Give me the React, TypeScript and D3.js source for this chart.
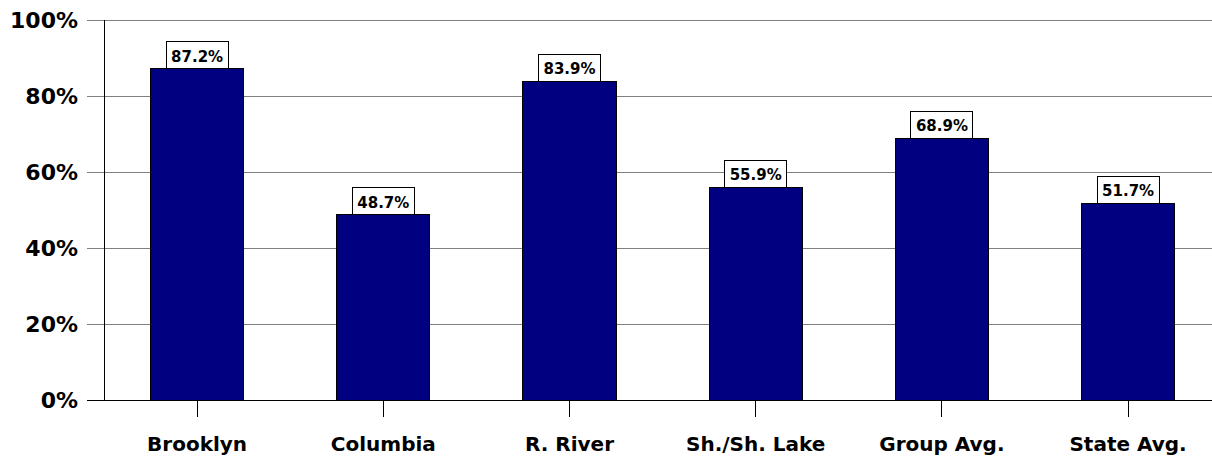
import React from "react";
import * as d3 from "d3";

const categories = ["Brooklyn", "Columbia", "R. River", "Sh./Sh. Lake", "Group Avg.", "State Avg."];
const values = [87.2, 48.7, 83.9, 55.9, 68.9, 51.7];
const yTicks = [0, 20, 40, 60, 80, 100];

const W = 1212;
const H = 460;
const FONT = "'DejaVu Sans', Arial, sans-serif";

export default function App() {
  const x0 = 104;
  const step = 186.2;
  const x = d3
    .scaleBand<string>()
    .domain(categories)
    .range([x0, x0 + step * categories.length])
    .paddingInner(0.5)
    .paddingOuter(0.25);
  const y = d3.scaleLinear().domain([0, 100]).range([400, 20]);

  return (
    <svg
      width={W}
      height={H}
      style={{ position: "absolute", left: 0, top: 0, background: "#fff" }}
      fontFamily={FONT}
    >
      {yTicks.map((t) => (
        <g key={t}>
          <line
            x1={87}
            x2={W}
            y1={y(t)}
            y2={y(t)}
            stroke={t === 0 ? "#000" : "#808080"}
            strokeWidth={1}
            shapeRendering="crispEdges"
          />
          <text
            x={78}
            y={y(t)}
            dy="0.36em"
            textAnchor="end"
            fontSize={22}
            fontWeight="bold"
            fill="#000"
          >
            {t}%
          </text>
        </g>
      ))}
      <line x1={x0} x2={x0} y1={y(100)} y2={y(0)} stroke="#000" shapeRendering="crispEdges" />
      {categories.map((c, i) => {
        const bx = x(c)!;
        const bw = x.bandwidth();
        const cx = bx + bw / 2;
        const top = y(values[i]);
        const label = values[i].toFixed(1) + "%";
        const boxW = 62;
        const boxH = 27;
        return (
          <g key={c}>
            <rect
              x={bx}
              y={top}
              width={bw}
              height={y(0) - top}
              fill="#000080"
              stroke="#000"
              strokeWidth={1}
              shapeRendering="crispEdges"
            />
            <line x1={cx} x2={cx} y1={y(0)} y2={y(0) + 17} stroke="#000" shapeRendering="crispEdges" />
            <rect
              x={cx - boxW / 2}
              y={top - boxH}
              width={boxW}
              height={boxH}
              fill="#fff"
              stroke="#000"
              strokeWidth={1}
              shapeRendering="crispEdges"
            />
            <text
              x={cx}
              y={top - boxH / 2 + 1}
              dy="0.36em"
              textAnchor="middle"
              fontSize={15}
              fontWeight="bold"
              fill="#000"
            >
              {label}
            </text>
            <text
              x={cx}
              y={451}
              textAnchor="middle"
              fontSize={20}
              fontWeight="bold"
              fill="#000"
            >
              {c}
            </text>
          </g>
        );
      })}
    </svg>
  );
}
